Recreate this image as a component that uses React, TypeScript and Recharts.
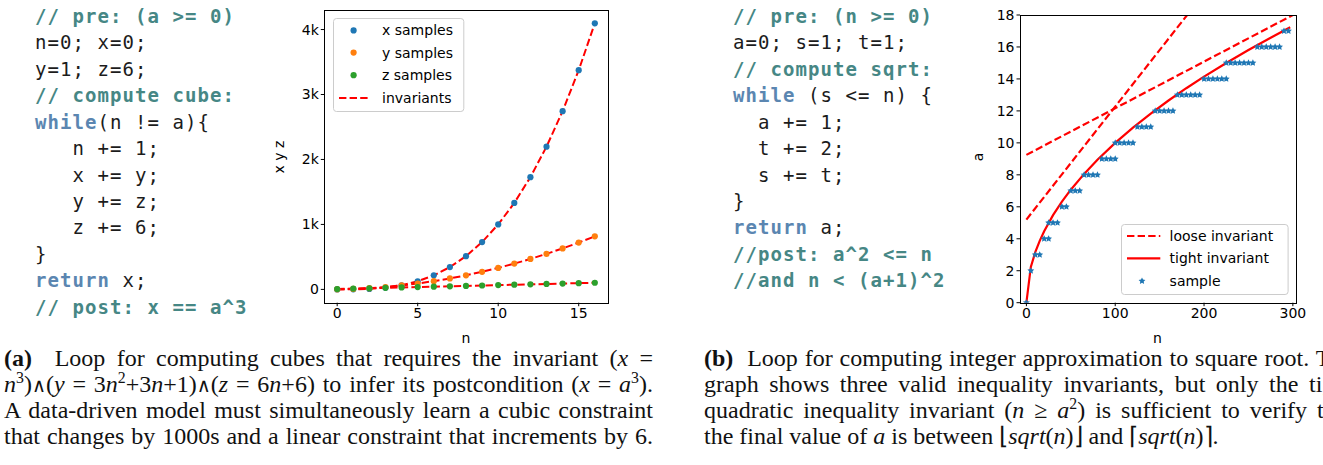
import React from 'react';
import { ComposedChart, Line, Scatter, XAxis, YAxis } from 'recharts';

// (a) cube loop samples
const cubeN = [0, 1, 2, 3, 4, 5, 6, 7, 8, 9, 10, 11, 12, 13, 14, 15, 16];
const xSamples = [0, 1, 8, 27, 64, 125, 216, 343, 512, 729, 1000, 1331, 1728, 2197, 2744, 3375, 4096];
const ySamples = [1, 7, 19, 37, 61, 91, 127, 169, 217, 271, 331, 397, 469, 547, 631, 721, 817];
const zSamples = [6, 12, 18, 24, 30, 36, 42, 48, 54, 60, 66, 72, 78, 84, 90, 96, 102];
const cubeTicksX = [0, 5, 10, 15];
const cubeTicksY = [0, 1000, 2000, 3000, 4000];

// (b) sqrt loop samples
const sampleN = [0, 5, 10, 15, 20, 25, 25, 30, 35, 40, 45, 50, 55, 60, 65, 70, 75, 80, 85, 90, 95, 100, 100, 105, 110, 115, 120,
  125, 130, 135, 140, 145, 150, 155, 160, 165, 170, 175, 180, 185, 190, 195, 200, 205, 210, 215, 220, 225, 225, 230, 235, 240,
  245, 250, 255, 260, 265, 270, 275, 280, 285, 290, 295];
const sampleA = [0, 2, 3, 3, 4, 4, 5, 5, 5, 6, 6, 7, 7, 7, 8, 8, 8, 8, 9, 9, 9, 9, 10, 10, 10, 10, 10,
  11, 11, 11, 11, 12, 12, 12, 12, 12, 13, 13, 13, 13, 13, 13, 14, 14, 14, 14, 14, 14, 15, 15, 15, 15,
  15, 15, 15, 16, 16, 16, 16, 16, 16, 17, 17];
const tightN = [0, 5, 10, 15, 20, 30, 40, 50, 65, 80, 100, 120, 140, 160, 180, 200, 225, 250, 275, 297];
const tightA = [0, 2.24, 3.16, 3.87, 4.47, 5.48, 6.32, 7.07, 8.06, 8.94, 10, 10.95, 11.83, 12.65, 13.42, 14.14, 15, 15.81, 16.58, 17.23];
const looseAN = [0, 300];
const looseAA = [9.25, 18.0];
const looseBN = [0, 181];
const looseBA = [5.2, 18.0];
const sqrtTicksX = [0, 100, 200, 300];
const sqrtTicksY = [0, 2, 4, 6, 8, 10, 12, 14, 16, 18];

const cubeRows = cubeN.map((n, i) => ({ n, x: xSamples[i], y: ySamples[i], z: zSamples[i] }));
const sampleRows = sampleN.map((n, i) => ({ n, a: sampleA[i] }));
const tightRows = tightN.map((n, i) => ({ n, a: tightA[i] }));
const looseARows = looseAN.map((n, i) => ({ n, a: looseAA[i] }));
const looseBRows = looseBN.map((n, i) => ({ n, a: looseBA[i] }));

const BLUE = '#1f77b4';
const ORANGE = '#ff7f0e';
const GREEN = '#2ca02c';
const RED = '#ff0000';
const SANS = '"DejaVu Sans", Verdana, sans-serif';
const SERIF = '"Liberation Serif", "Times New Roman", serif';
const MONO = '"DejaVu Sans Mono", monospace';
const COMMENT = '#468785';
const KEYWORD = '#5b86b1';

const tickStyle = { fill: '#000', fontSize: 14, fontFamily: SANS };
const dash = '7.4 3.2';

const dot = (color: string) => (p: any) => <circle cx={p.cx} cy={p.cy} r={3.1} fill={color} />;

const starPoints = (cx: number, cy: number, ro: number, ri: number) => {
  const pts: string[] = [];
  for (let k = 0; k < 10; k++) {
    const r = k % 2 === 0 ? ro : ri;
    const ang = -Math.PI / 2 + (k * Math.PI) / 5;
    pts.push(`${cx + r * Math.cos(ang)},${cy + r * Math.sin(ang)}`);
  }
  return pts.join(' ');
};
const star = (p: any) => <polygon points={starPoints(p.cx, p.cy, 3.6, 1.8)} fill={BLUE} />;

const Frame = ({ left, top, width, height }: { left: number; top: number; width: number; height: number }) => (
  <div style={{ position: 'absolute', left: left - 0.5, top: top - 0.5, width, height, border: '1px solid #000', pointerEvents: 'none' }} />
);

const AxisTitle = ({ x, y, text, rotate }: { x: number; y: number; text: string; rotate?: boolean }) => (
  <div style={{
    position: 'absolute', left: x, top: y, transform: `translate(-50%, -50%)${rotate ? ' rotate(-90deg)' : ''}`,
    fontFamily: SANS, fontSize: 14, color: '#000', whiteSpace: 'nowrap', lineHeight: '16px',
  }}>{text}</div>
);

const C = ({ children }: { children: React.ReactNode }) => <span style={{ color: COMMENT, fontWeight: 'bold' }}>{children}</span>;
const K = ({ children }: { children: React.ReactNode }) => <span style={{ color: KEYWORD, fontWeight: 'bold' }}>{children}</span>;

const codeStyle: React.CSSProperties = {
  position: 'absolute', fontFamily: MONO, fontSize: 19, letterSpacing: '1.06px', lineHeight: '26.45px',
  whiteSpace: 'pre', color: '#1c1c1c', margin: 0,
};

const CapLine = ({ top, left, last, children }: { top: number; left: number; last?: boolean; children: React.ReactNode }) => (
  <div style={{
    position: 'absolute', left, top, width: 649, fontFamily: SERIF, fontSize: 24, lineHeight: '26px', color: '#111',
    textAlign: last ? 'left' : 'justify', textAlignLast: last ? 'left' : 'justify', whiteSpace: 'nowrap',
  }}>{children}</div>
);
const I = ({ children }: { children: React.ReactNode }) => <i>{children}</i>;
const Sup = ({ children }: { children: React.ReactNode }) => <sup style={{ fontSize: '0.66em', lineHeight: 0 }}>{children}</sup>;
const And = () => <span style={{ fontFamily: '"DejaVu Serif", serif', fontSize: '0.8em' }}>∧</span>;

export default function App() {
  return (
    <div style={{ position: 'fixed', left: 0, top: 0, width: 1323, height: 465, overflow: 'hidden', background: '#fff' }}>
      {/* left code */}
      <div style={{ ...codeStyle, left: 35, top: 2.8 }}>
        <C>{'// pre: (a >= 0)'}</C>{'\n'}
        {'n=0; x=0;\n'}
        {'y=1; z=6;\n'}
        <C>{'// compute cube:'}</C>{'\n'}
        <K>while</K>{'(n != a){\n'}
        {'   n += 1;\n'}
        {'   x += y;\n'}
        {'   y += z;\n'}
        {'   z += 6;\n'}
        {'}\n'}
        <K>return</K>{' x;\n'}
        <C>{'// post: x == a^3'}</C>
      </div>

      {/* left chart */}
      <div style={{ position: 'absolute', left: 260, top: 0 }}>
        <ComposedChart width={360} height={330} data={cubeRows} margin={{ top: 10, right: 12.3, bottom: 0, left: 0 }}>
          <XAxis type="number" dataKey="n" domain={[-0.8, 16.8]} ticks={cubeTicksX} allowDataOverflow
            height={27.3} tickSize={3.5} tickMargin={2} axisLine={false} tickLine={{ stroke: '#000' }} tick={tickStyle} />
          <YAxis type="number" domain={[-204.8, 4300.8]} ticks={cubeTicksY} allowDataOverflow
            width={64.3} tickSize={3.5} tickMargin={2} axisLine={false} tickLine={{ stroke: '#000' }} tick={tickStyle}
            tickFormatter={(v: number) => (v === 0 ? '0' : `${v / 1000}k`)} />
          <Line dataKey="x" type="linear" stroke={RED} strokeWidth={2} strokeDasharray={dash} dot={false} isAnimationActive={false} />
          <Line dataKey="y" type="linear" stroke={RED} strokeWidth={2} strokeDasharray={dash} dot={false} isAnimationActive={false} />
          <Line dataKey="z" type="linear" stroke={RED} strokeWidth={2} strokeDasharray={dash} dot={false} isAnimationActive={false} />
          <Scatter dataKey="x" shape={dot(BLUE)} isAnimationActive={false} />
          <Scatter dataKey="y" shape={dot(ORANGE)} isAnimationActive={false} />
          <Scatter dataKey="z" shape={dot(GREEN)} isAnimationActive={false} />
        </ComposedChart>
      </div>
      <Frame left={324.3} top={10} width={283.4} height={292.7} />
      <svg style={{ position: 'absolute', left: 332.7, top: 18.3 }} width={132} height={95}>
        <rect x={0.5} y={0.5} width={130.3} height={93} rx={3} fill="rgba(255,255,255,0.8)" stroke="#cccccc" />
        <circle cx={20.6} cy={12.4} r={3.1} fill={BLUE} />
        <circle cx={20.6} cy={34.6} r={3.1} fill={ORANGE} />
        <circle cx={20.6} cy={57.2} r={3.1} fill={GREEN} />
        <line x1={6} x2={35} y1={80} y2={80} stroke={RED} strokeWidth={2} strokeDasharray={dash} />
        {['x samples', 'y samples', 'z samples', 'invariants'].map((t, i) => (
          <text key={t} x={49} y={[12.4, 34.6, 57.2, 80][i]} dominantBaseline="central" fontFamily={SANS} fontSize={14} fill="#000">{t}</text>
        ))}
      </svg>
      <AxisTitle x={279} y={157} text="x y z" rotate />
      <AxisTitle x={466} y={338} text="n" />

      {/* right code */}
      <div style={{ ...codeStyle, left: 733, top: 2.8 }}>
        <C>{'// pre: (n >= 0)'}</C>{'\n'}
        {'a=0; s=1; t=1;\n'}
        <C>{'// compute sqrt:'}</C>{'\n'}
        <K>while</K>{' (s <= n) {\n'}
        {'  a += 1;\n'}
        {'  t += 2;\n'}
        {'  s += t;\n'}
        {'}\n'}
        <K>return</K>{' a;\n'}
        <C>{'//post: a^2 <= n'}</C>{'\n'}
        <C>{'//and n < (a+1)^2'}</C>
      </div>

      {/* right chart */}
      <div style={{ position: 'absolute', left: 960, top: 0 }}>
        <ComposedChart width={360} height={330} margin={{ top: 15, right: 25, bottom: 0, left: 0 }}>
          <XAxis type="number" dataKey="n" domain={[-7.2, 302.4]} ticks={sqrtTicksX} allowDataOverflow
            height={27.3} tickSize={3.5} tickMargin={2} axisLine={false} tickLine={{ stroke: '#000' }} tick={tickStyle} />
          <YAxis type="number" domain={[0, 18]} ticks={sqrtTicksY} allowDataOverflow
            width={60} tickSize={3.5} tickMargin={2} axisLine={false} tickLine={{ stroke: '#000' }} tick={tickStyle} />
          <Line data={looseARows} dataKey="a" type="linear" stroke={RED} strokeWidth={2.2} strokeDasharray={dash} dot={false} isAnimationActive={false} />
          <Line data={looseBRows} dataKey="a" type="linear" stroke={RED} strokeWidth={2.2} strokeDasharray={dash} dot={false} isAnimationActive={false} />
          <Line data={tightRows} dataKey="a" type="linear" stroke={RED} strokeWidth={2.2} dot={false} isAnimationActive={false} />
          <Scatter data={sampleRows} dataKey="a" shape={star} isAnimationActive={false} />
        </ComposedChart>
      </div>
      <Frame left={1020} top={15} width={275} height={287.7} />
      <svg style={{ position: 'absolute', left: 1120.7, top: 224 }} width={169} height={72}>
        <rect x={0.5} y={0.5} width={166.6} height={70} rx={3} fill="rgba(255,255,255,0.8)" stroke="#cccccc" />
        <line x1={6} x2={39.3} y1={12} y2={12} stroke={RED} strokeWidth={2.2} strokeDasharray={dash} />
        <line x1={6} x2={39.3} y1={34.3} y2={34.3} stroke={RED} strokeWidth={2.2} />
        <polygon points={starPoints(21, 57, 3.6, 1.8)} fill={BLUE} />
        {['loose invariant', 'tight invariant', 'sample'].map((t, i) => (
          <text key={t} x={48.6} y={[12, 34.3, 57][i]} dominantBaseline="central" fontFamily={SANS} fontSize={14} fill="#000">{t}</text>
        ))}
      </svg>
      <AxisTitle x={978} y={157} text="a" rotate />
      <AxisTitle x={1157.5} y={338} text="n" />

      {/* captions */}
      <CapLine left={4} top={345}><b>(a)</b>&nbsp; Loop for computing cubes that requires the invariant (<I>x</I> =</CapLine>
      <CapLine left={4} top={371}><I>n</I><Sup>3</Sup>)<And />(<I>y</I> = 3<I>n</I><Sup>2</Sup>+3<I>n</I>+1)<And />(<I>z</I> = 6<I>n</I>+6) to infer its postcondition (<I>x</I> = <I>a</I><Sup>3</Sup>).</CapLine>
      <CapLine left={4} top={397}>A data-driven model must simultaneously learn a cubic constraint</CapLine>
      <CapLine left={4} top={423}>that changes by 1000s and a linear constraint that increments by 6.</CapLine>

      <CapLine left={704} top={345}><b>(b)</b>&nbsp; Loop for computing integer approximation to square root. The</CapLine>
      <CapLine left={704} top={371}>graph shows three valid inequality invariants, but only the tight</CapLine>
      <CapLine left={704} top={397}>quadratic inequality invariant (<I>n</I> ≥ <I>a</I><Sup>2</Sup>) is sufficient to verify that</CapLine>
      <CapLine left={704} top={423} last>the final value of <I>a</I> is between ⌊<I>sqrt</I>(<I>n</I>)⌋ and ⌈<I>sqrt</I>(<I>n</I>)⌉.</CapLine>
    </div>
  );
}
